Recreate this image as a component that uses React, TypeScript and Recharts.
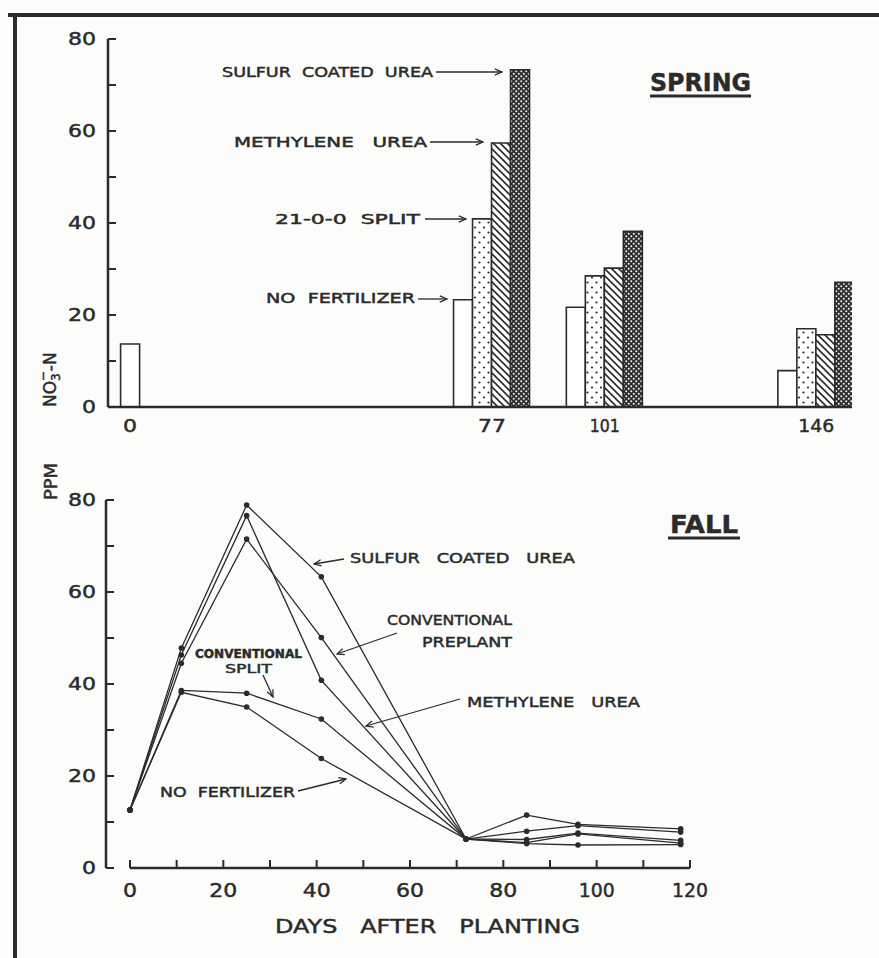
import React from 'react';
import { ComposedChart, Bar, LineChart, Line, XAxis, YAxis, ReferenceLine } from 'recharts';

const INK = '#2b2b2b';
const PAPER = '#fcfcfa';
const FONT = '"DejaVu Sans", "Liberation Sans", sans-serif';

// Spring sampling: days after planting, NO3-N in ppm
const springDays = [0, 77, 101, 146];
const springInitial = [13.7, null, null, null];
const springNoFertilizer = [null, 23.3, 21.7, 7.9];
const springSplit = [null, 40.9, 28.5, 17.0];
const springMethylene = [null, 57.4, 30.2, 15.7];
const springSulfur = [null, 73.3, 38.2, 27.1];

// Fall sampling
const fallDays = [0, 11, 25, 41, 72, 85, 96, 118];
const fallSulfur = [12.6, 47.8, 78.9, 63.3, 6.3, 11.5, 9.5, 8.5];
const fallPreplant = [12.6, 44.5, 71.5, 50.1, 6.3, 8.0, 9.2, 7.8];
const fallMethylene = [12.6, 46.3, 76.6, 40.8, 6.3, 6.2, 7.6, 6.0];
const fallSplit = [12.6, 38.6, 38.0, 32.4, 6.3, 5.5, 7.4, 5.4];
const fallNoFertilizer = [12.6, 38.2, 35.0, 23.8, 6.3, 5.3, 5.0, 5.1];

const ppmTicks = [0, 10, 20, 30, 40, 50, 60, 70, 80];
const springDayTicks = [0, 77, 101, 146];
const fallDayTicks = [0, 10, 20, 30, 40, 50, 60, 70, 80, 90, 100, 110, 120];

const springData = springDays.map((day, i) => ({
  day,
  initial: springInitial[i],
  noFertilizer: springNoFertilizer[i],
  split: springSplit[i],
  methylene: springMethylene[i],
  sulfur: springSulfur[i],
}));

const fallData = fallDays.map((day, i) => ({
  day,
  sulfur: fallSulfur[i],
  preplant: fallPreplant[i],
  methylene: fallMethylene[i],
  split: fallSplit[i],
  noFertilizer: fallNoFertilizer[i],
}));

// lettering-guide digits are wide, the "1" is a plain stroke
const digitWidth = (s: string) => s.split('').reduce((w, c) => w + (c === '1' ? 8 : 14), 0);

// a thin outline thickens the strokes a little, like pen lettering
const inked = { stroke: INK, strokeWidth: 0.45, paintOrder: 'stroke' as const };

function Num({ x, y, anchor, size, children }: any) {
  const s = String(children);
  return (
    <text
      x={x}
      y={y}
      textAnchor={anchor}
      fontSize={size}
      fontFamily={FONT}
      fill={INK}
      textLength={digitWidth(s)}
      lengthAdjust="spacingAndGlyphs"
      style={inked}
    >
      {s}
    </text>
  );
}

// ticks point into the plot, labels every 20
function PpmTick({ x, y, payload, gap }: any) {
  return (
    <g>
      <line x1={x} x2={x + 8} y1={y} y2={y} stroke={INK} strokeWidth={2} />
      {payload.value % 20 === 0 && (
        <Num x={x - gap} y={y + 6} anchor="end" size={17}>
          {payload.value}
        </Num>
      )}
    </g>
  );
}

function SpringDayTick({ x, y, payload }: any) {
  return (
    <Num x={x} y={y + 25} anchor="middle" size={17}>
      {payload.value}
    </Num>
  );
}

function FallDayTick({ x, y, payload }: any) {
  return (
    <g>
      <line x1={x} x2={x} y1={y} y2={y - 8} stroke={INK} strokeWidth={2} />
      {payload.value % 20 === 0 && (
        <Num x={x} y={y + 29} anchor="middle" size={19}>
          {payload.value}
        </Num>
      )}
    </g>
  );
}

function Caption({ x, y, w, size = 13.5, weight = 'normal', children }: any) {
  return (
    <text
      x={x}
      y={y}
      fontSize={size}
      fontWeight={weight}
      fontFamily={FONT}
      fill={INK}
      textLength={w}
      lengthAdjust="spacingAndGlyphs"
      style={{ whiteSpace: 'pre', ...inked }}
    >
      {children}
    </text>
  );
}

function Arrow({ d }: any) {
  return <path d={d} fill="none" stroke={INK} strokeWidth={1.3} markerEnd="url(#arrowhead)" />;
}

const dotStyle = { r: 2.8, fill: INK, stroke: INK, strokeWidth: 0 };

export default function App() {
  return (
    <div style={{ position: 'absolute', left: 0, top: 0, width: 879, height: 958, background: PAPER, overflow: 'hidden' }}>
      {/* spring bars */}
      <div style={{ position: 'absolute', left: 0, top: 0 }}>
        <ComposedChart
          width={879}
          height={440}
          data={springData}
          margin={{ top: 39, right: 27, bottom: 0, left: 0 }}
          barGap={0}
        >
          <defs>
            <pattern id="dots" width="9" height="10" patternUnits="userSpaceOnUse">
              <rect width="9" height="10" fill="#fff" />
              <circle cx="2.5" cy="2.5" r="1.1" fill={INK} />
              <circle cx="7" cy="7.5" r="1.1" fill={INK} />
            </pattern>
            <pattern id="hatch" width="7" height="7" patternUnits="userSpaceOnUse">
              <rect width="7" height="7" fill="#fff" />
              <path d="M-1,-1 L8,8 M-1,6 L1,8 M6,-1 L8,1" stroke={INK} strokeWidth="1.6" />
            </pattern>
            <pattern id="check" width="5" height="5" patternUnits="userSpaceOnUse">
              <rect width="5" height="5" fill="#2e2e2e" />
              <circle cx="1.25" cy="1.25" r="1" fill="#f2f2f2" />
              <circle cx="3.75" cy="3.75" r="1" fill="#f2f2f2" />
            </pattern>
          </defs>
          <XAxis
            xAxisId="main"
            dataKey="day"
            type="number"
            domain={[-4.68, 153.6]}
            allowDataOverflow
            ticks={springDayTicks}
            interval={0}
            height={33}
            tickSize={0}
            tickMargin={0}
            axisLine={{ stroke: INK, strokeWidth: 2.5 }}
            tick={<SpringDayTick />}
          />
          {/* the day-0 sample sits on its own axis so it is centred on its day */}
          <XAxis xAxisId="initial" dataKey="day" type="number" domain={[-4.68, 153.6]} allowDataOverflow height={0} hide />
          <YAxis
            domain={[0, 80]}
            ticks={ppmTicks}
            interval={0}
            width={108}
            tickSize={0}
            tickMargin={0}
            tickLine={false}
            axisLine={{ stroke: INK, strokeWidth: 2.5 }}
            tick={(p: any) => <PpmTick {...p} gap={12} />}
          />
          <Bar xAxisId="initial" dataKey="initial" barSize={19} fill="#fff" stroke={INK} strokeWidth={1.6} isAnimationActive={false} />
          <Bar xAxisId="main" dataKey="noFertilizer" barSize={19} fill="#fff" stroke={INK} strokeWidth={1.6} isAnimationActive={false} />
          <Bar xAxisId="main" dataKey="split" barSize={19} fill="url(#dots)" stroke={INK} strokeWidth={1.6} isAnimationActive={false} />
          <Bar xAxisId="main" dataKey="methylene" barSize={19} fill="url(#hatch)" stroke={INK} strokeWidth={1.6} isAnimationActive={false} />
          <Bar xAxisId="main" dataKey="sulfur" barSize={19} fill="url(#check)" stroke={INK} strokeWidth={1.6} isAnimationActive={false} />
        </ComposedChart>
      </div>

      {/* fall lines */}
      <div style={{ position: 'absolute', left: 0, top: 450 }}>
        <LineChart width={879} height={508} data={fallData} margin={{ top: 50, right: 189, bottom: 0, left: 0 }}>
          <XAxis
            dataKey="day"
            type="number"
            domain={[-5.14, 120]}
            allowDataOverflow
            ticks={fallDayTicks}
            interval={0}
            height={90}
            tickSize={0}
            tickMargin={0}
            axisLine={false}
            tick={<FallDayTick />}
          />
          <YAxis
            domain={[0, 80]}
            ticks={ppmTicks}
            interval={0}
            width={106}
            tickSize={0}
            tickMargin={0}
            tickLine={false}
            axisLine={{ stroke: INK, strokeWidth: 2.5 }}
            tick={(p: any) => <PpmTick {...p} gap={10} />}
          />
          <ReferenceLine segment={[{ x: 0, y: 0 }, { x: 120, y: 0 }]} stroke={INK} strokeWidth={2.5} />
          <Line type="linear" dataKey="noFertilizer" stroke={INK} strokeWidth={1.3} dot={dotStyle} isAnimationActive={false} />
          <Line type="linear" dataKey="split" stroke={INK} strokeWidth={1.3} dot={dotStyle} isAnimationActive={false} />
          <Line type="linear" dataKey="methylene" stroke={INK} strokeWidth={1.3} dot={dotStyle} isAnimationActive={false} />
          <Line type="linear" dataKey="preplant" stroke={INK} strokeWidth={1.3} dot={dotStyle} isAnimationActive={false} />
          <Line type="linear" dataKey="sulfur" stroke={INK} strokeWidth={1.3} dot={dotStyle} isAnimationActive={false} />
        </LineChart>
      </div>

      {/* lettering, arrows and frame */}
      <svg width={879} height={958} style={{ position: 'absolute', left: 0, top: 0, pointerEvents: 'none' }}>
        <defs>
          <marker id="arrowhead" viewBox="0 0 10 10" refX="9" refY="5" markerWidth="9" markerHeight="9" markerUnits="userSpaceOnUse" orient="auto">
            <path d="M1,1.5 L9,5 L1,8.5" fill="none" stroke={INK} strokeWidth="1.4" />
          </marker>
        </defs>

        <rect x={8} y={13} width={871} height={4} fill={INK} />
        <rect x={13} y={13} width={4} height={945} fill={INK} />

        <Caption x={650} y={91} w={101} size={25} weight="bold">SPRING</Caption>
        <line x1={650} x2={751} y1={96} y2={96} stroke={INK} strokeWidth={3} />
        <Caption x={222} y={77} w={211}>{'SULFUR  COATED  UREA'}</Caption>
        <Arrow d="M436,72 L502,72" />
        <Caption x={234} y={147} w={193}>{'METHYLENE   UREA'}</Caption>
        <Arrow d="M430,142 L483,142" />
        <Caption x={275} y={224} w={145}>{'21-0-0  SPLIT'}</Caption>
        <Arrow d="M425,219 L466,219" />
        <Caption x={266} y={303} w={149}>{'NO  FERTILIZER'}</Caption>
        <Arrow d="M418,299 L447,299" />

        <text transform="translate(56,407) rotate(-90)" fontSize={17} fontFamily={FONT} fill={INK} style={inked}>
          NO
          <tspan dy={4} fontSize={12}>3</tspan>
          <tspan dx={-8} dy={-13} fontSize={12}>−</tspan>
          <tspan dy={9}>-N</tspan>
        </text>
        <text transform="translate(57,500) rotate(-90)" fontSize={17} fontFamily={FONT} fill={INK} textLength={37} lengthAdjust="spacingAndGlyphs" style={inked}>
          PPM
        </text>

        <Caption x={670} y={533} w={68} size={24} weight="bold">FALL</Caption>
        <line x1={668} x2={740} y1={538} y2={538} stroke={INK} strokeWidth={3} />
        <Caption x={350} y={563} w={225}>{'SULFUR   COATED   UREA'}</Caption>
        <Arrow d="M344,559 L314,564" />
        <Caption x={387} y={625} w={125}>CONVENTIONAL</Caption>
        <Caption x={422} y={647} w={90}>PREPLANT</Caption>
        <Arrow d="M397,633 L337,654" />
        <Caption x={195} y={658} w={107} size={11.5} weight="bold">CONVENTIONAL</Caption>
        <Caption x={225} y={673} w={47} size={12.5}>SPLIT</Caption>
        <Arrow d="M263,675 L273,697" />
        <Caption x={467} y={707} w={173}>{'METHYLENE   UREA'}</Caption>
        <Arrow d="M460,699 L366,726" />
        <Caption x={160} y={797} w={135}>{'NO  FERTILIZER'}</Caption>
        <Arrow d="M298,791 L346,779" />

        <Caption x={275} y={933} w={305} size={19}>{'DAYS   AFTER   PLANTING'}</Caption>
      </svg>
    </div>
  );
}
